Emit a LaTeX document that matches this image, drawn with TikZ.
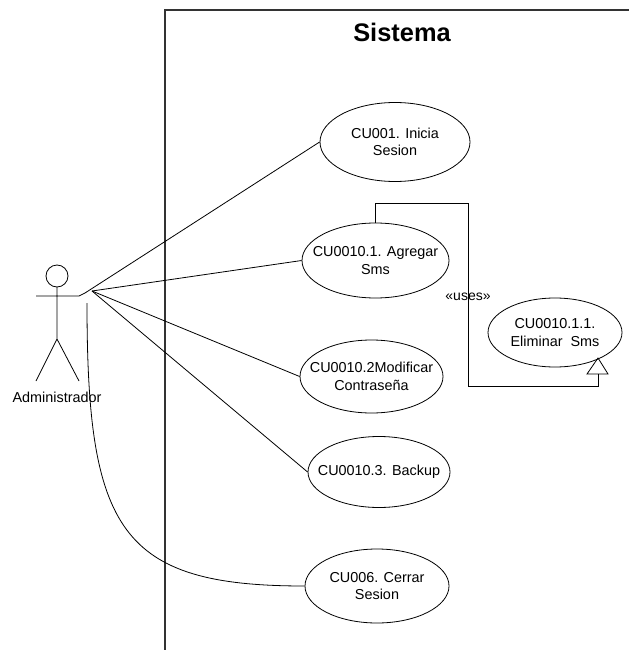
\documentclass[tikz,border=0pt]{standalone}
\usepackage{fontspec}
\setmainfont{Liberation Sans}
\usetikzlibrary{shapes.geometric}
\tikzset{
 ucase/.style={draw,ellipse,inner ysep=0pt,inner xsep=-24pt,align=center,font=\fontsize{14.4}{17.6}\selectfont,line width=0.8pt},
 wire/.style={draw=black,line width=0.8pt},
 boxline/.style={draw=black!80,line width=1.3pt},
}
\begin{document}
\begin{tikzpicture}[x=1pt,y=-1pt]
\useasboundingbox (0,0) rectangle (629,650);
\fill[white] (0,0) rectangle (629,650);
\coordinate (s1) at (165,650);
\coordinate (s2) at (165,10);
\coordinate (s3) at (629,10);
\draw[boxline] (s1) -- (s2) -- (s3);
\node[font=\bfseries\fontsize{25.4}{30}\selectfont] (title) at (402,32) {Sistema};
\node[ucase,minimum width=150pt,minimum height=79pt] (a) at (395,142) {CU001. Inicia\\Sesion};
\node[ucase,minimum width=147pt,minimum height=75pt] (b) at (375.5,260.5) {CU0010.1. Agregar\\Sms};
\node[ucase,minimum width=134pt,minimum height=69pt] (e) at (555,332.5) {CU0010.1.1.\\Eliminar\ \ Sms};
\node[ucase,minimum width=143pt,minimum height=73pt] (c) at (371.5,376.5) {CU0010.2Modificar\\Contraseña};
\node[ucase,minimum width=142pt,minimum height=71pt] (d) at (379,472) {CU0010.3. Backup};
\node[ucase,minimum width=144pt,minimum height=74pt] (f) at (377,586) {CU006. Cerrar\\Sesion};
\draw[wire] (57,276) circle (11);
\draw[wire] (57,287) -- (57,339) -- (36,381) (57,339) -- (79,381) (36,296) -- (79,296) -- (85,293);
\node[font=\fontsize{14.4}{17}\selectfont] (adm) at (57,397) {Administrador};
\coordinate (h1) at (85,293);
\coordinate (h2) at (92,291);
\coordinate (h3) at (87,303);
\draw[wire] (h1) -- (a.west);
\draw[wire] (h2) -- (b.west);
\draw[wire] (h2) -- (c.west);
\draw[wire] (h2) -- (d.west);
\draw[wire] (h3) .. controls (87,530) and (120,586) .. (f.west);
\coordinate (u1) at (375,223);
\coordinate (u2) at (375,203);
\coordinate (u3) at (468,203);
\coordinate (u4) at (468,386);
\coordinate (u5) at (598,386);
\coordinate (u6) at (598,374);
\coordinate (ta) at (598,358);
\draw[wire] (u1) -- (u2) -- (u3) -- (u4) -- (u5) -- (u6);
\draw[wire] (u6) -- (587,374) -- (ta) -- (608,374) -- cycle;
\node[font=\fontsize{14}{17}\selectfont] (uses) at (468,297) {«uses»};
\end{tikzpicture}
\end{document}
